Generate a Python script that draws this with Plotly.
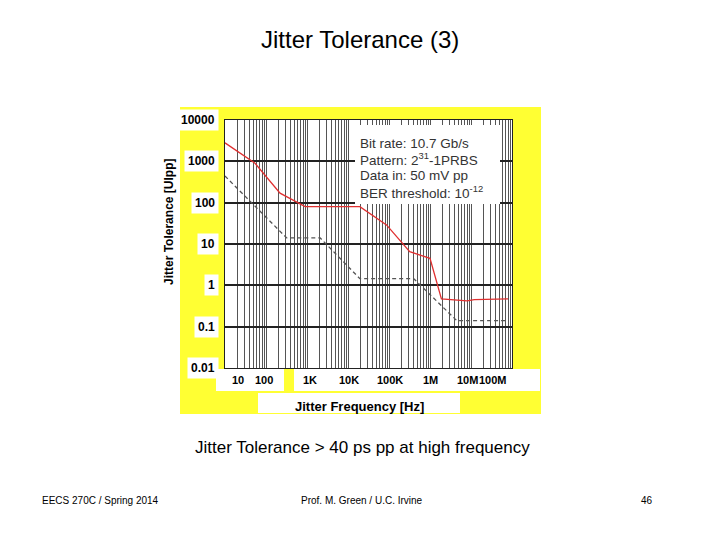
import math
import plotly.graph_objects as go

red_x = [10, 54, 220, 900, 19500, 87000, 320000, 1000000, 1900000, 8000000, 12000000, 80000000]
red_y = [2800, 900, 170, 80, 80, 29, 6.5, 4.5, 0.47, 0.42, 0.45, 0.47]
mask_x = [10, 320, 2100, 19500, 400000, 4500000, 80000000]
mask_y = [440, 14, 14, 1.45, 1.45, 0.14, 0.14]
y_ticks = [10000, 1000, 100, 10, 1, 0.1, 0.01]
y_labels = ["10000", "1000", "100", "10", "1", "0.1", "0.01"]
x_labels = ["10", "100", "1K", "10K", "100K", "1M", "10M", "100M"]
x_label_px = [230, 264, 310, 349, 390, 430, 467, 509]
decades = [10, 100, 1e3, 1e4, 1e5, 1e6, 1e7]
x_grid = [m * d for d in decades for m in range(1, 10)]

W, H = 704, 524
def px(x): return (x - 8) / W
def py(y): return 1 - (y - 8) / H

F = "Liberation Sans, Arial, sans-serif"
fig = go.Figure()
fig.add_trace(go.Scatter(x=mask_x, y=mask_y, mode="lines",
                         line=dict(color="#555555", width=1.3, dash="4px,3px")))
fig.add_trace(go.Scatter(x=red_x, y=red_y, mode="lines",
                         line=dict(color="#e03030", width=1.3)))

shapes = [
    dict(type="rect", xref="paper", yref="paper", x0=px(180), x1=px(541), y0=py(414), y1=py(107),
         fillcolor="#ffff33", line=dict(width=0), layer="below"),
    dict(type="rect", xref="paper", yref="paper", x0=px(225), x1=px(512), y0=py(368), y1=py(120),
         fillcolor="white", line=dict(width=0), layer="below"),
    dict(type="rect", xref="paper", yref="paper", x0=px(216), x1=px(284), y0=py(391), y1=py(369),
         fillcolor="white", line=dict(width=0)),
    dict(type="rect", xref="paper", yref="paper", x0=px(294), x1=px(540), y0=py(391), y1=py(369),
         fillcolor="white", line=dict(width=0)),
    dict(type="rect", xref="paper", yref="paper", x0=px(258), x1=px(460), y0=py(413), y1=py(393),
         fillcolor="white", line=dict(width=0)),
    dict(type="rect", xref="paper", yref="paper", x0=px(355), x1=px(500), y0=py(204), y1=py(125),
         fillcolor="white", line=dict(width=0), layer="above"),
]
for d in decades + [1e8]:
    shapes.append(dict(type="line", xref="x", yref="paper", x0=math.log10(d), x1=math.log10(d),
                       y0=py(368), y1=py(120), line=dict(color="#111111", width=2), layer="below"))

ann = []
for v, t in zip(y_ticks, y_labels):
    ann.append(dict(x=px(219), y=math.log10(v), xref="paper", yref="y", text="<b>" + t + "</b>",
                    showarrow=False, xanchor="right", yanchor="middle", bgcolor="white",
                    borderpad=3, font=dict(size=12, family=F, color="black")))
for xp, t in zip(x_label_px, x_labels):
    ann.append(dict(x=px(xp), y=py(380), xref="paper", yref="paper", text="<b>" + t + "</b>", showarrow=False,
                    yanchor="middle", font=dict(size=11, family=F, color="black")))
ann.append(dict(x=px(359), y=py(406), xref="paper", yref="paper", text="<b>Jitter Frequency [Hz]</b>",
                showarrow=False, yanchor="middle", font=dict(size=13, family=F, color="black")))
ann.append(dict(x=px(160), y=py(222), xref="paper", yref="paper", text="<b>Jitter Tolerance [UIpp]</b>",
                showarrow=False, textangle=-90, yanchor="middle", font=dict(size=12, family=F, color="black")))
box = ["Bit rate: 10.7 Gb/s", "Pattern: 2<sup>31</sup>-1PRBS", "Data in: 50 mV pp", "BER threshold: 10<sup>-12</sup>"]
for i, t in enumerate(box):
    ann.append(dict(x=px(358), y=py(143 + 16.3 * i), xref="paper", yref="paper", text=t, showarrow=False,
                    xanchor="left", yanchor="middle", font=dict(size=13.5, family=F, color="#333333")))
ann.append(dict(x=px(360), y=py(40), xref="paper", yref="paper", text="Jitter Tolerance (3)", showarrow=False,
                yanchor="middle", font=dict(size=24, family=F, color="black")))
ann.append(dict(x=px(362), y=py(447), xref="paper", yref="paper",
                text="Jitter Tolerance > 40 ps pp at high frequency", showarrow=False,
                yanchor="middle", font=dict(size=17, family=F, color="black")))
ann.append(dict(x=px(40), y=py(500), xref="paper", yref="paper", text="EECS 270C / Spring 2014",
                showarrow=False, xanchor="left", yanchor="middle", font=dict(size=10, family=F, color="black")))
ann.append(dict(x=px(362), y=py(500), xref="paper", yref="paper", text="Prof. M. Green / U.C. Irvine",
                showarrow=False, yanchor="middle", font=dict(size=10, family=F, color="black")))
ann.append(dict(x=px(655), y=py(500), xref="paper", yref="paper", text="46",
                showarrow=False, yanchor="middle", font=dict(size=10, family=F, color="black")))

fig.update_layout(
    width=W, height=H, margin=dict(l=0, r=0, t=0, b=0),
    paper_bgcolor="white", plot_bgcolor="rgba(0,0,0,0)", showlegend=False,
    shapes=shapes, annotations=ann,
    xaxis=dict(type="log", range=[1, 8], domain=[px(225), px(512)], showticklabels=False,
               tickvals=x_grid, ticks="",
               showgrid=True, gridcolor="#555555", gridwidth=0.7, zeroline=False,
               showline=True, linecolor="#222222", mirror=True),
    yaxis=dict(type="log", range=[-2, 4], domain=[py(368), py(120)], showticklabels=False,
               showgrid=True, gridcolor="#222222", gridwidth=1.5, zeroline=False, ticks="",
               tickvals=y_ticks, showline=True, linecolor="#222222", mirror=True),
)
fig.write_html("out.html")
